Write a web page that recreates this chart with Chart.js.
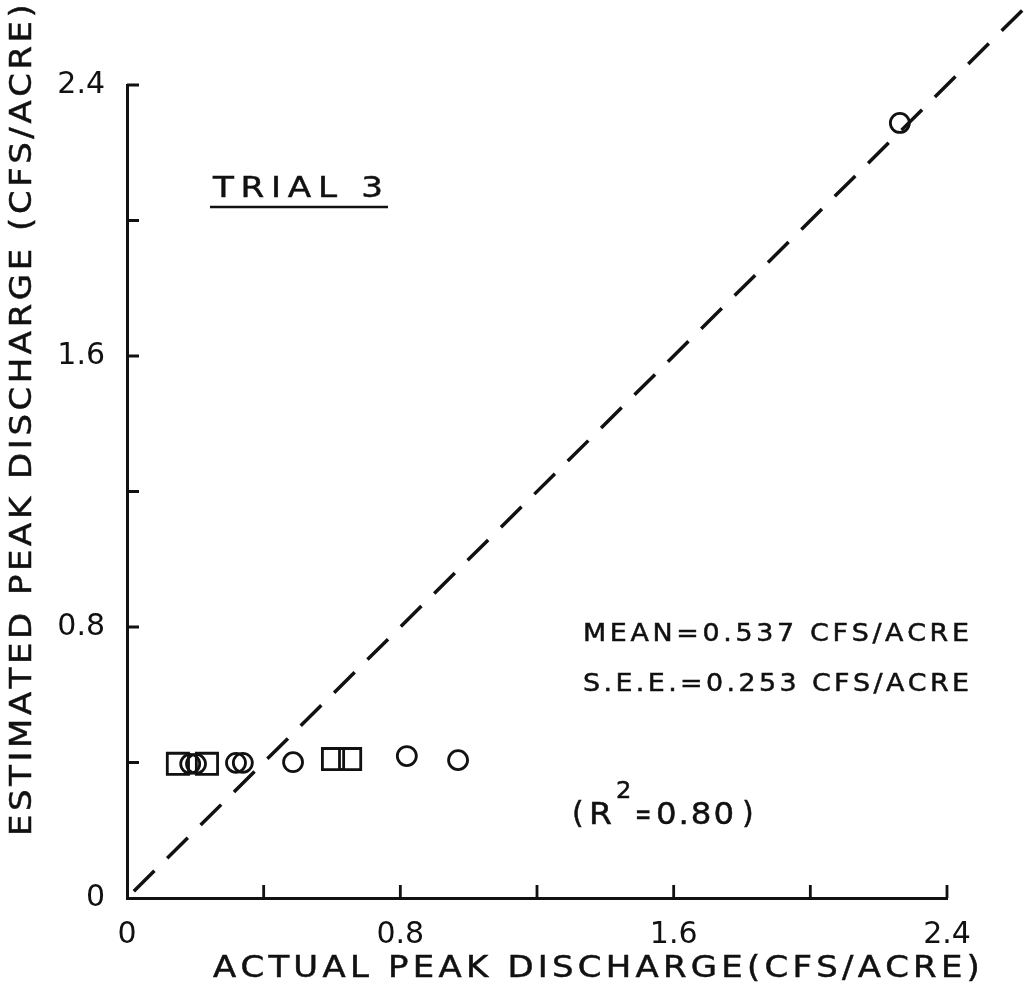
<!DOCTYPE html>
<html>
<head>
<meta charset="utf-8">
<script src="https://cdn.jsdelivr.net/npm/chart.js@4.4.1/dist/chart.umd.min.js"></script>
<style>
  html, body { margin: 0; padding: 0; background: #fff; }
  canvas { display: block; }
</style>
</head>
<body>
<canvas id="peakChart" width="1027" height="992"></canvas>
<script>
'use strict';

// peak discharge, cfs/acre: actual (x) against estimated (y)
const circleActual    = [0.185, 0.202, 0.319, 0.339, 0.486, 0.819, 0.969, 2.262];
const circleEstimated = [0.396, 0.396, 0.399, 0.399, 0.401, 0.419, 0.407, 2.288];
const squareActual    = [0.149, 0.234, 0.603, 0.653];
const squareEstimated = [0.396, 0.396, 0.410, 0.410];

// line of perfect agreement
const equalityLine = [0.02, 2.62];

const labeledTicks = [0, 0.8, 1.6, 2.4];
const tickLabels = ['0', '0.8', '1.6', '2.4'];
const tickMarks = [0.4, 0.8, 1.2, 1.6, 2.0, 2.4];

const xTitle = 'ACTUAL PEAK DISCHARGE(CFS/ACRE)';
const yTitle = 'ESTIMATED PEAK DISCHARGE (CFS/ACRE)';
const trialLabel = 'TRIAL 3';
const meanLabel = 'MEAN=0.537 CFS/ACRE';
const seeLabel = 'S.E.E.=0.253 CFS/ACRE';

const ink = '#111';
const family = "'DejaVu Sans', sans-serif";

function toPoints(xs, ys) {
    return xs.map((x, i) => ({ x: x, y: ys[i] }));
}

// stencil-style lettering: glyphs widened a little, then spaced to fill the width
function spacedText(ctx, str, x, y, width, size, stretch) {
    stretch = stretch || 1.13;
    ctx.font = size + 'px ' + family;
    var natural = ctx.measureText(str).width * stretch;
    var gap = str.length > 1 ? (width - natural) / (str.length - 1) : 0;
    ctx.lineWidth = 0.5;
    for (var i = 0; i < str.length; i++) {
        ctx.save();
        ctx.translate(x, y);
        ctx.scale(stretch, 1);
        ctx.fillText(str[i], 0, 0);
        ctx.strokeText(str[i], 0, 0);
        ctx.restore();
        x += ctx.measureText(str[i]).width * stretch + gap;
    }
}

// short tick marks pointing into the plot
const inwardTicks = {
    id: 'inwardTicks',
    afterDraw(chart) {
        var ctx = chart.ctx;
        var xs = chart.scales.x, ys = chart.scales.y;
        var area = chart.chartArea;
        ctx.save();
        ctx.strokeStyle = ink;
        ctx.lineWidth = 2.8;
        ctx.beginPath();
        tickMarks.forEach(function(v) {
            var px = xs.getPixelForValue(v);
            ctx.moveTo(px, area.bottom);
            ctx.lineTo(px, area.bottom - 13);
            var py = ys.getPixelForValue(v);
            ctx.moveTo(area.left, py);
            ctx.lineTo(area.left + 12, py);
        });
        ctx.stroke();
        ctx.restore();
    }
};

// axis titles and the notes on the sheet
const sheetText = {
    id: 'sheetText',
    afterDraw(chart) {
        var ctx = chart.ctx;
        ctx.save();
        ctx.fillStyle = ink;
        ctx.strokeStyle = ink;
        ctx.textAlign = 'left';
        ctx.textBaseline = 'middle';

        spacedText(ctx, xTitle, 213, 969, 765, 30);

        ctx.save();
        ctx.translate(23, 836);
        ctx.rotate(-Math.PI / 2);
        spacedText(ctx, yTitle, 0, 0, 828, 30);
        ctx.restore();

        spacedText(ctx, trialLabel, 213, 189, 170, 29, 1.18);
        ctx.lineWidth = 2.6;
        ctx.beginPath();
        ctx.moveTo(210, 207);
        ctx.lineTo(388, 207);
        ctx.stroke();

        spacedText(ctx, meanLabel, 583, 635, 385, 24, 1.12);
        spacedText(ctx, seeLabel, 583, 685, 385, 24, 1.12);

        // (R² = 0.80) with a raised 2
        spacedText(ctx, '(', 572, 815, 10, 30, 1);
        spacedText(ctx, 'R', 589, 816, 24, 30, 1.1);
        spacedText(ctx, '2', 616, 792, 16, 23, 1.05);
        spacedText(ctx, '=', 635, 816, 16, 30, 0.65);
        spacedText(ctx, '0.80', 656, 816, 78, 30, 1.08);
        spacedText(ctx, ')', 742, 815, 10, 30, 1);

        ctx.restore();
    }
};

function axis(extra) {
    return Object.assign({
        type: 'linear',
        min: 0,
        max: 2.4,
        afterBuildTicks: function(scale) {
            scale.ticks = labeledTicks.map(v => ({ value: v }));
        },
        grid: { display: false },
        border: { display: true, color: ink, width: 3 },
        ticks: {
            color: ink,
            font: { family: family, size: 30 },
            autoSkip: false,
            maxRotation: 0,
            callback: (v, i) => tickLabels[i]
        }
    }, extra);
}

var xAxis = axis({ afterFit: s => { s.height = 94; } });
xAxis.ticks.padding = 11;
var yAxis = axis({ afterFit: s => { s.width = 127; } });
yAxis.ticks.padding = 14;

new Chart(document.getElementById('peakChart').getContext('2d'), {
    type: 'scatter',
    data: {
        datasets: [{
            label: 'Equality',
            data: toPoints(equalityLine, equalityLine),
            showLine: true,
            borderColor: ink,
            borderWidth: 3.5,
            borderDash: [29, 18],
            pointRadius: 0,
            clip: false
        }, {
            label: 'Circles',
            data: toPoints(circleActual, circleEstimated),
            pointStyle: 'circle',
            pointRadius: 9.5,
            pointBorderWidth: 2.8,
            pointBorderColor: ink,
            pointBackgroundColor: 'rgba(0,0,0,0)',
            clip: false
        }, {
            label: 'Squares',
            data: toPoints(squareActual, squareEstimated),
            pointStyle: 'rect',
            pointRadius: 15,
            pointBorderWidth: 2.8,
            pointBorderColor: ink,
            pointBackgroundColor: 'rgba(0,0,0,0)',
            clip: false
        }]
    },
    options: {
        responsive: false,
        animation: false,
        events: [],
        layout: { padding: { left: 0, top: 85, right: 80, bottom: 0 } },
        scales: { x: xAxis, y: yAxis },
        plugins: {
            legend: { display: false },
            tooltip: { enabled: false }
        }
    },
    plugins: [inwardTicks, sheetText]
});
</script>
</body>
</html>
